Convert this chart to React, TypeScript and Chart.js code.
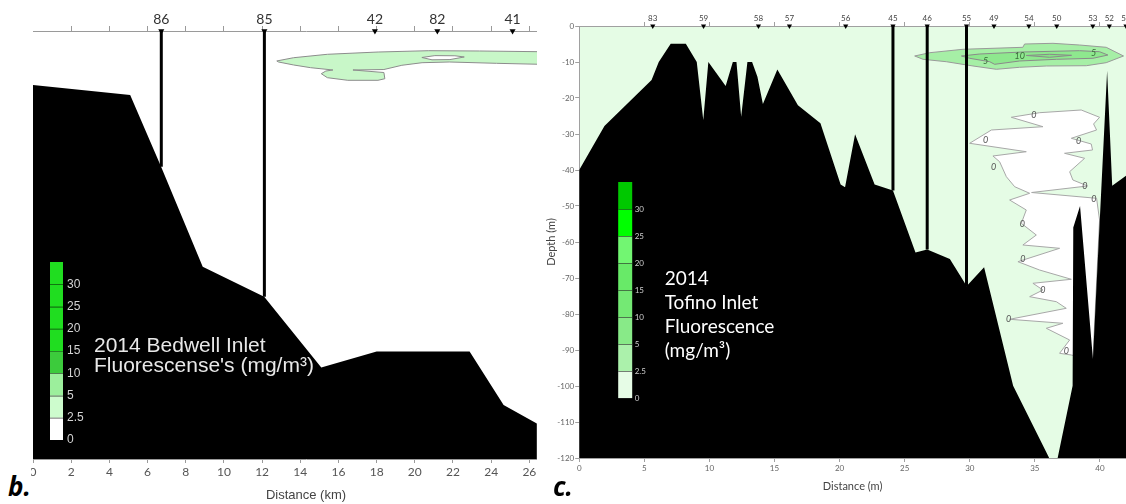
import React, { useEffect, useRef } from "react";
import { Chart, registerables } from "chart.js";

Chart.register(...registerables);

/* ================= Panel b: 2014 Bedwell Inlet ================= */
const bDistanceMaxKm = 28.6;
const bDepthMin = -100;
const bDistanceTicks = [0, 2, 4, 6, 8, 10, 12, 14, 16, 18, 20, 22, 24, 26, 28];
const bTopMinorTicks = [2, 4, 6, 8, 10, 12, 14, 16, 18, 20, 22, 24, 26, 28];
const bStationNames = ["86", "85", "42", "82", "41"];
const bStationKm = [6.72, 12.12, 17.91, 21.18, 25.12];
const bCastKm = [6.72, 12.12];
const bCastBottom = [-31.7, -62.1];
const bBathyKm = [0, 5.09, 6.71, 8.89, 12.11, 15.1, 18.0, 22.87, 24.65, 26.39];
const bBathyDepth = [-12.6, -14.95, -31.7, -55.1, -62.1, -78.6, -74.9, -74.9, -87.4, -91.7];
const bPatchKm = [12.77, 13.65, 15.42, 18.08, 20.73, 23.39, 26.58, 26.56, 24.28, 21.8, 20.38, 19.32, 18.38, 16.76, 18.38, 18.43, 18.07, 16.49, 15.42, 15.1, 15.34, 15.71, 14.54, 13.65, 12.86, 12.77];
const bPatchDepth = [-7.0, -6.24, -5.44, -4.91, -4.6, -4.67, -4.84, -7.78, -7.55, -7.24, -7.41, -8.01, -9.0, -9.11, -9.7, -11.15, -11.52, -11.52, -10.91, -9.98, -9.35, -9.11, -8.57, -7.94, -7.24, -7.0];
const bHoleKm = [20.37, 21.05, 22.1, 22.59, 21.84, 20.9, 20.37];
const bHoleDepth = [-6.19, -5.75, -5.79, -6.07, -6.68, -6.73, -6.19];
const bLegendLabels = ["30", "25", "20", "15", "10", "5", "2.5", "0"];
const bLegendColors = ["#20dd20", "#20dd20", "#20dd20", "#20dd20", "#3ccb3c", "#9cef9c", "#cdfccd", "#ffffff"];
const bTitleLines = ["2014 Bedwell Inlet", "Fluorescense's (mg/m³)"];

/* ================= Panel c: 2014 Tofino Inlet ================= */
const cDistanceMax = 42;
const cDepthMin = -120;
const cDistanceTicks = [0, 5, 10, 15, 20, 25, 30, 35, 40];
const cDepthTicks = [-120, -110, -100, -90, -80, -70, -60, -50, -40, -30, -20, -10, 0];
const cTopMinorTicks = [5, 10, 15, 20, 25, 30, 35, 40];
const cStationNames = ["83", "59", "58", "57", "56", "45", "46", "55", "49", "54", "50", "53", "52", "51"];
const cStationX = [5.65, 9.55, 13.77, 16.15, 20.47, 24.1, 26.73, 29.75, 31.86, 34.54, 36.68, 39.45, 40.72, 42.0];
const cCastX = [24.1, 26.73, 29.75];
const cCastBottom = [-45.7, -62.1, -72.3];
const cBathyX = [0, 1.94, 5.56, 6.11, 7.03, 8.19, 9.03, 9.53, 9.92, 11.25, 11.8, 12.08, 12.44, 12.92, 13.28, 13.69, 14.11, 15.22, 16.8, 18.53, 20.08, 20.42, 21.19, 22.69, 24.1, 25.83, 26.73, 28.47, 29.58, 29.75, 31.1, 33.33, 36.1, 36.75, 37.9, 37.95, 38.47, 39.46, 40.55, 40.94, 42];
const cBathyDepth = [-40, -27.8, -15, -10, -4.9, -4.9, -10, -26.1, -10, -16.7, -10, -10, -25.2, -10, -10, -14.1, -21.7, -12.1, -22, -27, -44, -44.8, -30.1, -44, -45.7, -62.9, -62.1, -64.7, -71.2, -72.3, -67, -99.9, -120, -120, -99.9, -56, -50, -92.5, -12.4, -44.4, -41.6];
const cOuterX = [25.77, 26.92, 29.48, 34.08, 34.21, 36.39, 38.43, 40.48, 41.81, 40.48, 38.95, 35.88, 33.83, 32.04, 30.25, 28.2, 26.41, 25.77];
const cOuterDepth = [-8.33, -7.42, -6.47, -5.92, -5.0, -4.81, -5.28, -5.92, -8.33, -10.19, -11.03, -11.11, -11.47, -12.03, -11.11, -9.92, -9.25, -8.33];
const cInnerX = [29.36, 30.76, 34.08, 38.43, 39.97, 40.61, 39.46, 36.65, 33.83, 31.91, 31.53, 29.99, 29.36];
const cInnerDepth = [-8.33, -7.78, -7.22, -6.86, -7.14, -8.06, -8.97, -9.25, -9.72, -10.64, -9.92, -8.97, -8.33];
const cCoreX = [34.34, 36.13, 37.82, 36.13, 34.34];
const cCoreDepth = [-8.19, -7.86, -8.14, -8.69, -8.19];
const cZeroX = [33.19, 35.36, 38.56, 39.97, 39.51, 39.74, 37.8, 39.33, 39.43, 37.28, 38.82, 37.67, 37.92, 39.05, 34.75, 39.74, 39.97, 39.46, 37.8, 36.9, 37.67, 35.88, 37.15, 33.06, 37.41, 36.65, 34.6, 35.62, 34.85, 37.8, 35.36, 33.7, 36.9, 34.08, 35.11, 33.96, 34.34, 33.06, 34.6, 33.45, 32.81, 32.29, 31.78, 34.34, 29.99, 31.66, 35.62, 33.19];
const cZeroDepth = [-25.36, -24.08, -23.33, -25.36, -27.22, -28.89, -31.19, -32.78, -34.44, -35.36, -36.75, -40.47, -42.78, -44.44, -46.25, -47.86, -53.89, -92.78, -91.39, -90.92, -87.22, -83.97, -82.58, -81.47, -78.42, -76.58, -75.19, -73.33, -71.47, -70.36, -67.78, -65.47, -61.75, -60.83, -58.06, -54.81, -51.11, -48.33, -46.47, -44.64, -41.86, -37.69, -36.11, -34.92, -32.58, -28.89, -27.97, -25.36];
const cZeroLabelX = [34.93, 31.22, 38.36, 31.83, 38.84, 39.53, 34.04, 34.08, 35.62, 32.99, 37.41];
const cZeroLabelDepth = [-24.72, -31.67, -31.86, -39.08, -44.44, -48.14, -55.0, -64.8, -73.33, -81.47, -90.19];
const cGreenLabelText = ["5", "10", "5"];
const cGreenLabelX = [31.22, 33.83, 39.51];
const cGreenLabelDepth = [-9.64, -8.25, -7.58];
const cLegendLabels = ["30", "25", "20", "15", "10", "5", "2.5", "0"];
const cLegendColors = ["#00c800", "#00ff00", "#72f672", "#68ea68", "#74e974", "#88ea88", "#abf1ab", "#e6fce6"];
const cTitleLines = ["2014", "Tofino Inlet", "Fluorescence", "(mg/m³)"];

/* ================= helpers ================= */
type Pt = { x: number; y: number };
const zip = (xs: number[], ys: number[]): Pt[] => xs.map((x, i) => ({ x, y: ys[i] }));
const ring = (pts: Pt[]): Pt[] => {
  const f = pts[0];
  const l = pts[pts.length - 1];
  return f.x === l.x && f.y === l.y ? pts : [...pts, f];
};
const seafloor = (xs: number[], ys: number[], floor: number): Pt[] =>
  ring([...zip(xs, ys), { x: xs[xs.length - 1], y: floor }, { x: xs[0], y: floor }]);

const polygon = (label: string, pts: Pt[], fillColor: string, edge: string, order: number) => ({
  label,
  data: pts,
  fill: "shape",
  backgroundColor: fillColor,
  borderColor: edge,
  borderWidth: 1,
  pointRadius: 0,
  tension: 0,
  clip: false,
  order,
});

const castLine = (label: string, x: number, bottom: number) => ({
  label,
  data: [{ x, y: 0 }, { x, y: bottom }],
  borderColor: "#000",
  borderWidth: 3,
  borderCapStyle: "butt",
  pointRadius: 0,
  fill: false,
  order: 0,
});

const stationMarks = (xs: number[], r: number) => ({
  label: "Stations",
  data: xs.map((x) => ({ x, y: 0 })),
  showLine: false,
  pointStyle: "triangle",
  pointRotation: 180,
  pointRadius: r,
  pointBackgroundColor: "#000",
  pointBorderColor: "#000",
  pointBorderWidth: 0,
  clip: false,
  order: -1,
});

function drawColorbar(
  ctx: CanvasRenderingContext2D,
  x: number,
  top: number,
  bottom: number,
  width: number,
  colors: string[],
  labels: string[],
  font: string,
  labelColor: string,
  labelDx: number,
  sepColor: string
) {
  const h = (bottom - top) / colors.length;
  colors.forEach((c, i) => {
    ctx.fillStyle = c;
    ctx.fillRect(x, top + i * h, width, h);
  });
  ctx.strokeStyle = sepColor;
  ctx.lineWidth = 1;
  for (let i = 1; i <= colors.length; i++) {
    const y = Math.round(top + i * h) + 0.5;
    ctx.beginPath();
    ctx.moveTo(x, y);
    ctx.lineTo(x + width, y);
    ctx.stroke();
  }
  ctx.font = font;
  ctx.fillStyle = labelColor;
  ctx.textAlign = "left";
  ctx.textBaseline = "middle";
  labels.forEach((t, i) => ctx.fillText(t, x + width + labelDx, top + (i + 1) * h));
}

const bDecor = {
  id: "bDecor",
  afterDatasetsDraw(chart: any) {
    const { ctx, chartArea } = chart;
    ctx.save();
    drawColorbar(ctx, chartArea.left + 17, 262, 440, 13, bLegendColors, bLegendLabels,
      '12px "Liberation Sans", Arial, sans-serif', "#d4d4d4", 4, "rgba(0,0,0,0.35)");
    ctx.font = '21px "Liberation Sans", Arial, sans-serif';
    ctx.fillStyle = "#e8e8e8";
    ctx.textAlign = "left";
    ctx.textBaseline = "alphabetic";
    ctx.fillText(bTitleLines[0], chartArea.left + 61, 352);
    ctx.fillText(bTitleLines[1], chartArea.left + 61, 372);
    ctx.restore();
  },
};

const cBackground = {
  id: "cBackground",
  beforeDraw(chart: any) {
    const { ctx, chartArea: a } = chart;
    ctx.save();
    ctx.fillStyle = "#e5fce5";
    ctx.fillRect(a.left, a.top, a.right - a.left, a.bottom - a.top);
    ctx.restore();
  },
};

const cDecor = {
  id: "cDecor",
  afterDatasetsDraw(chart: any) {
    const { ctx, chartArea, scales } = chart;
    const xs = scales.x;
    const ys = scales.y;
    ctx.save();
    ctx.font = "italic 9px Lato, sans-serif";
    ctx.fillStyle = "#555";
    ctx.textAlign = "center";
    ctx.textBaseline = "middle";
    cZeroLabelX.forEach((v, i) => ctx.fillText("0", xs.getPixelForValue(v), ys.getPixelForValue(cZeroLabelDepth[i])));
    ctx.fillStyle = "#3a6a3a";
    cGreenLabelText.forEach((t, i) =>
      ctx.fillText(t, xs.getPixelForValue(cGreenLabelX[i]), ys.getPixelForValue(cGreenLabelDepth[i])));
    drawColorbar(ctx, chartArea.left + 39, 182, 398, 14, cLegendColors, cLegendLabels,
      "8px Lato, sans-serif", "#d0d0d0", 2.5, "rgba(40,40,40,0.6)");
    ctx.font = "19px Lato, sans-serif";
    ctx.fillStyle = "#ffffff";
    ctx.textAlign = "left";
    ctx.textBaseline = "alphabetic";
    const baselines = [285, 308.5, 333, 357];
    cTitleLines.forEach((t, i) => ctx.fillText(t, chartArea.left + 85.5, baselines[i]));
    ctx.restore();
  },
};

const zeroPad = (s: any) => {
  s.paddingLeft = 0;
  s.paddingRight = 0;
  s.paddingTop = 0;
  s.paddingBottom = 0;
};

function bConfig(): any {
  const isStation = (v: number) => bStationKm.includes(v);
  return {
    type: "line",
    data: {
      datasets: [
        stationMarks(bStationKm, 3.5),
        ...bCastKm.map((x, i) => castLine("Cast " + bStationNames[i], x, bCastBottom[i])),
        polygon("Seafloor", seafloor(bBathyKm, bBathyDepth, bDepthMin), "#000000", "rgba(0,0,0,0)", 1),
        polygon("Fluorescence < 2.5", ring(zip(bHoleKm, bHoleDepth)), "#ffffff", "#8c8c8c", 2),
        polygon("Fluorescence 2.5–5", ring(zip(bPatchKm, bPatchDepth)), "#c8f7c8", "#8c8c8c", 3),
      ],
    },
    options: {
      responsive: false,
      animation: false,
      events: [],
      layout: { padding: { left: 33, right: 21, top: 0, bottom: 0 }, autoPadding: false },
      plugins: { legend: { display: false }, tooltip: { enabled: false }, title: { display: false } },
      scales: {
        x: {
          type: "linear",
          position: "bottom",
          min: 0,
          max: bDistanceMaxKm,
          afterBuildTicks: (s: any) => { s.ticks = bDistanceTicks.map((value) => ({ value })); },
          afterFit: (s: any) => { s.height = 45; zeroPad(s); },
          grid: { drawOnChartArea: false, tickLength: 4, color: "#9a9a9a" },
          border: { color: "#9a9a9a" },
          ticks: { autoSkip: false, maxRotation: 0, minRotation: 0, padding: 2, color: "#555", font: { family: "Lato, sans-serif", size: 12 } },
          title: { display: true, text: "Distance (km)", color: "#444", font: { family: '"Liberation Sans", Arial, sans-serif', size: 13 }, padding: { top: 0, bottom: 1 } },
        },
        xTop: {
          type: "linear",
          axis: "x",
          position: "top",
          min: 0,
          max: bDistanceMaxKm,
          afterBuildTicks: (s: any) => {
            s.ticks = [...bTopMinorTicks, ...bStationKm].sort((a, b) => a - b).map((value) => ({ value }));
          },
          afterFit: (s: any) => { s.height = 31; zeroPad(s); },
          grid: {
            drawOnChartArea: false,
            tickLength: 5,
            color: "#9a9a9a",
            tickColor: (c: any) => (c.tick && isStation(c.tick.value) ? "rgba(0,0,0,0)" : "#9a9a9a"),
          },
          border: { color: "#9a9a9a" },
          ticks: {
            autoSkip: false,
            maxRotation: 0,
            minRotation: 0,
            padding: -2,
            color: "#333",
            font: { family: "Lato, sans-serif", size: 14 },
            callback: (v: number) => { const i = bStationKm.indexOf(v); return i >= 0 ? bStationNames[i] : ""; },
          },
        },
        y: { type: "linear", display: false, min: bDepthMin, max: 0 },
      },
    },
    plugins: [bDecor],
  };
}

function cConfig(): any {
  const isStation = (v: number) => cStationX.includes(v);
  return {
    type: "line",
    data: {
      datasets: [
        stationMarks(cStationX, 3),
        ...cCastX.map((x, i) => castLine("Cast " + cStationNames[5 + i], x, cCastBottom[i])),
        polygon("Seafloor", seafloor(cBathyX, cBathyDepth, cDepthMin), "#000000", "rgba(0,0,0,0)", 1),
        polygon("Fluorescence 0", ring(zip(cZeroX, cZeroDepth)), "#ffffff", "#a8a8a8", 2),
        polygon("Fluorescence 10", ring(zip(cCoreX, cCoreDepth)), "#86e386", "#8a8a8a", 3),
        polygon("Fluorescence 5", ring(zip(cInnerX, cInnerDepth)), "#8ee88e", "#8a8a8a", 4),
        polygon("Fluorescence 2.5", ring(zip(cOuterX, cOuterDepth)), "#a6efa6", "#9a9a9a", 5),
      ],
    },
    options: {
      responsive: false,
      animation: false,
      events: [],
      layout: { padding: { left: 0, right: 0, top: 0, bottom: 0 }, autoPadding: false },
      plugins: { legend: { display: false }, tooltip: { enabled: false }, title: { display: false } },
      scales: {
        x: {
          type: "linear",
          position: "bottom",
          min: 0,
          max: cDistanceMax,
          afterBuildTicks: (s: any) => { s.ticks = cDistanceTicks.map((value) => ({ value })); },
          afterFit: (s: any) => { s.height = 46; zeroPad(s); },
          grid: { drawOnChartArea: false, tickLength: 4, color: "#a0a0a0" },
          border: { color: "#a0a0a0" },
          ticks: { autoSkip: false, maxRotation: 0, minRotation: 0, padding: 2, color: "#666", font: { family: "Lato, sans-serif", size: 8 } },
          title: { display: true, text: "Distance (m)", color: "#444", font: { family: "Lato, sans-serif", size: 11 }, padding: { top: 0, bottom: 11 } },
        },
        xTop: {
          type: "linear",
          axis: "x",
          position: "top",
          min: 0,
          max: cDistanceMax,
          afterBuildTicks: (s: any) => {
            s.ticks = [...cTopMinorTicks, ...cStationX].sort((a, b) => a - b).map((value) => ({ value }));
          },
          afterFit: (s: any) => { s.height = 26; zeroPad(s); },
          grid: {
            drawOnChartArea: false,
            tickLength: 4,
            color: "#a0a0a0",
            tickColor: (c: any) => (c.tick && isStation(c.tick.value) ? "rgba(0,0,0,0)" : "#a0a0a0"),
          },
          border: { color: "#a0a0a0" },
          ticks: {
            autoSkip: false,
            maxRotation: 0,
            minRotation: 0,
            padding: -1,
            color: "#444",
            font: { family: "Lato, sans-serif", size: 8 },
            callback: (v: number) => { const i = cStationX.indexOf(v); return i >= 0 ? cStationNames[i] : ""; },
          },
        },
        y: {
          type: "linear",
          position: "left",
          min: cDepthMin,
          max: 0,
          afterBuildTicks: (s: any) => { s.ticks = cDepthTicks.map((value) => ({ value })); },
          afterFit: (s: any) => { s.width = 34.2; zeroPad(s); },
          grid: { drawOnChartArea: false, tickLength: 4, color: "#a0a0a0" },
          border: { color: "#a0a0a0" },
          ticks: { autoSkip: false, padding: 1, color: "#666", font: { family: "Lato, sans-serif", size: 8 } },
          title: { display: true, text: "Depth (m)", color: "#444", font: { family: "Lato, sans-serif", size: 11 }, padding: { top: 0, bottom: 0 } },
        },
      },
    },
    plugins: [cBackground, cDecor],
  };
}

export default function App() {
  const bRef = useRef<HTMLCanvasElement>(null);
  const cRef = useRef<HTMLCanvasElement>(null);

  useEffect(() => {
    document.body.style.margin = "0";
    document.body.style.overflow = "hidden";
    const bChart = new Chart(bRef.current as HTMLCanvasElement, bConfig());
    const cChart = new Chart(cRef.current as HTMLCanvasElement, cConfig());
    return () => {
      bChart.destroy();
      cChart.destroy();
    };
  }, []);

  const panelLetter: React.CSSProperties = {
    position: "absolute",
    top: 473,
    fontFamily: '"Open Sans", sans-serif',
    fontStyle: "italic",
    fontWeight: 700,
    fontSize: 26,
    lineHeight: "26px",
    color: "#000",
  };

  return (
    <div style={{ position: "relative", width: 1126, height: 504, overflow: "hidden", background: "#fff" }}>
      <div style={{ position: "absolute", left: 31, top: 0, width: 506, height: 504, overflow: "hidden" }}>
        <canvas ref={bRef} width={600} height={504} style={{ position: "absolute", left: -31, top: 0, width: 600, height: 504 }} />
      </div>
      <div style={{ position: "absolute", left: 545, top: 0, width: 581, height: 504, overflow: "hidden" }}>
        <canvas ref={cRef} width={581} height={504} style={{ position: "absolute", left: 0, top: 0, width: 581, height: 504 }} />
      </div>
      <div style={{ ...panelLetter, left: 8 }}>b.</div>
      <div style={{ ...panelLetter, left: 553 }}>c.</div>
    </div>
  );
}
